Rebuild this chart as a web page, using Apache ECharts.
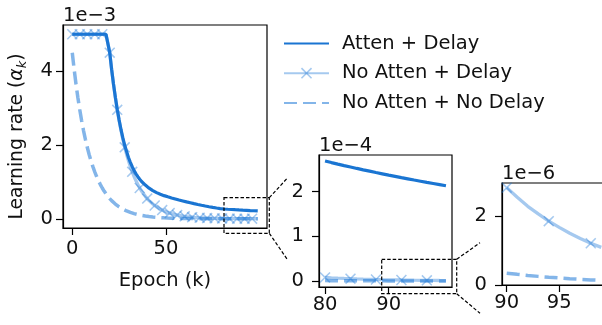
<!DOCTYPE html>
<html>
<head>
<meta charset="utf-8">
<script src="https://cdn.jsdelivr.net/npm/echarts@6/dist/echarts.min.js"></script>
<style>
  html, body { margin: 0; padding: 0; background: #fff; }
  #chart { width: 602px; height: 325px; }
</style>
</head>
<body>
<div id="chart"></div>
<script>
// learning rate per epoch, values in units of 1e-3
const epochs = Array.from({ length: 100 }, (_, i) => i);

const attenDelay = [
  5, 5, 5, 5, 5, 5, 5, 5, 5, 5, 5, 5, 5, 5, 5, 5, 5, 5, 5, 5,
  4.5, 4.05, 3.65, 3.29, 2.97, 2.68, 2.42, 2.19, 1.99, 1.82,
  1.66, 1.53, 1.41, 1.31, 1.22, 1.14, 1.07, 1.01, 0.96, 0.913,
  0.869, 0.83, 0.795, 0.764, 0.735, 0.709, 0.686, 0.665, 0.646, 0.627,
  0.611, 0.595, 0.58, 0.565, 0.551, 0.537, 0.523, 0.509, 0.496, 0.483,
  0.47, 0.457, 0.445, 0.433, 0.421, 0.409, 0.398, 0.387, 0.376, 0.366,
  0.356, 0.346, 0.336, 0.327, 0.318, 0.309, 0.3, 0.292, 0.284, 0.276,
  0.268, 0.2645, 0.2611, 0.2578, 0.2546, 0.2514, 0.2483, 0.2453, 0.2423, 0.2394,
  0.2365, 0.2337, 0.2309, 0.2282, 0.2255, 0.2229, 0.2203, 0.2178, 0.2153, 0.2128
];

const noAttenDelay = [
  5, 5, 5, 5, 5, 5, 5, 5, 5, 5, 5, 5, 5, 5, 5, 5, 5, 5, 5, 5,
  4.5, 4.05, 3.645, 3.281, 2.952, 2.657, 2.391, 2.152, 1.937, 1.743,
  1.569, 1.412, 1.271, 1.144, 1.029, 0.926, 0.834, 0.75, 0.675, 0.608,
  0.547, 0.492, 0.443, 0.399, 0.359, 0.323, 0.291, 0.262, 0.236, 0.212,
  0.191, 0.172, 0.155, 0.139, 0.125, 0.113, 0.101, 0.0912, 0.0821, 0.0739,
  0.0665, 0.0598, 0.0539, 0.0485, 0.0436, 0.0393, 0.0353, 0.0318, 0.0286, 0.0258,
  0.0232, 0.0209, 0.0188, 0.0169, 0.0152, 0.0137, 0.0123, 0.0111, 0.01, 0.009,
  0.0081, 0.00729, 0.00656, 0.0059, 0.00531, 0.00478, 0.0043, 0.00387, 0.00349, 0.00314,
  0.00282, 0.00254, 0.00228, 0.00206, 0.00185, 0.00167, 0.0015, 0.00135, 0.00121, 0.00109
];

const noAttenNoDelay = [
  4.5, 4.05, 3.645, 3.281, 2.952, 2.657, 2.391, 2.152, 1.937, 1.743,
  1.569, 1.412, 1.271, 1.144, 1.029, 0.926, 0.834, 0.75, 0.675, 0.608,
  0.547, 0.492, 0.443, 0.399, 0.359, 0.323, 0.291, 0.262, 0.236, 0.212,
  0.191, 0.172, 0.155, 0.139, 0.125, 0.113, 0.101, 0.0912, 0.0821, 0.0739,
  0.0665, 0.0598, 0.0539, 0.0485, 0.0436, 0.0393, 0.0353, 0.0318, 0.0286, 0.0258,
  0.0232, 0.0209, 0.0188, 0.0169, 0.0152, 0.0137, 0.0123, 0.0111, 0.01, 0.009,
  0.0081, 0.00729, 0.00656, 0.0059, 0.00531, 0.00478, 0.0043, 0.00387, 0.00349, 0.00314,
  0.00282, 0.00254, 0.00228, 0.00206, 0.00185, 0.00167, 0.0015, 0.00135, 0.00121, 0.00109,
  0.000984, 0.000886, 0.000797, 0.000717, 0.000646, 0.000581, 0.000523, 0.000471, 0.000424, 0.000381,
  0.000343, 0.000309, 0.000278, 0.00025, 0.000225, 0.000203, 0.000182, 0.000164, 0.000148, 0.000133
];

const seriesNames = ['Atten + Delay', 'No Atten + Delay', 'No Atten + No Delay'];

// panels: main view, zoom on 80-99, zoom on 90-99
const panelStart = [0, 80, 90];
const xRanges = [[-4.95, 103.95], [79.05, 99.95], [89.55, 99.45]];
const yRanges = [[-0.25, 5.25], [-0.0133, 0.2814], [0, 0.002955]];
const xTicks = [[0, 50], [80, 90], [90, 95]];
const yTicks = [[0, 2, 4], [0, 0.1, 0.2], [0, 0.002]];
const yScale = [1, 10, 1000];
const offsetLabels = ['1e\u22123', '1e\u22124', '1e\u22126'];

const grids = [
  { left: 63, top: 25, width: 204, height: 203 },
  { left: 319, top: 155, width: 133, height: 132 },
  { left: 502, top: 183, width: 104, height: 102 }
];
const xLabelMargin = [11, 8, 8];
const yLabelMargin = [10, 15, 15];

const FONT = 'DejaVu Sans';
const dark = '#1a75d2';
const light = 'rgba(30,120,215,0.4)';
const mid = 'rgba(30,120,215,0.55)';
const crossPath = 'path://M0,1L1,0L5,4L9,0L10,1L6,5L10,9L9,10L5,6L1,10L0,9L4,5Z';

function pts(values, from) {
  return values.slice(from).map((v, i) => [epochs[from + i], v]);
}
function markedPts(values, from) {
  return values.slice(from).map((v, i) => ({
    value: [epochs[from + i], v],
    symbol: i % 4 === 0 ? crossPath : 'none'
  }));
}

const chart = echarts.init(document.getElementById('chart'), null, { renderer: 'canvas' });

const axisBase = {
  axisLine: { show: true, onZero: false, lineStyle: { color: '#000', width: 1.2 } },
  splitLine: { show: false },
  nameTextStyle: { color: '#111', fontSize: 19.5, fontFamily: FONT }
};

const xAxis = grids.map((g, i) => ({
  ...axisBase,
  type: 'value',
  gridIndex: i,
  min: xRanges[i][0],
  max: xRanges[i][1],
  axisTick: { show: true, length: 7, customValues: xTicks[i], lineStyle: { color: '#000', width: 1.2 } },
  axisLabel: { customValues: xTicks[i], margin: xLabelMargin[i], color: '#111', fontSize: 19.5, fontFamily: FONT },
  name: i === 0 ? 'Epoch (k)' : '',
  nameLocation: 'middle',
  nameGap: 43
}));

const yAxis = grids.map((g, i) => ({
  ...axisBase,
  type: 'value',
  gridIndex: i,
  min: yRanges[i][0],
  max: yRanges[i][1],
  axisTick: { show: true, length: 7, customValues: yTicks[i], lineStyle: { color: '#000', width: 1.2 } },
  axisLabel: {
    customValues: yTicks[i], margin: yLabelMargin[i], color: '#111', fontSize: 19.5, fontFamily: FONT,
    formatter: v => String(Math.round(v * yScale[i]))
  },
  name: i === 0 ? '{t|Learning rate (}{g|\u03b1}{s|k}{t|)}' : '',
  nameLocation: 'middle',
  nameRotate: 90,
  nameGap: 34,
  nameTextStyle: {
    color: '#111',
    padding: [0, 20, 0, 0],
    rich: {
      t: { fontSize: 18.8, fontFamily: FONT, color: '#111', lineHeight: 24 },
      g: { fontSize: 18.8, fontFamily: FONT, fontStyle: 'italic', color: '#111', lineHeight: 24 },
      s: { fontSize: 13, fontFamily: FONT, fontStyle: 'italic', color: '#111', lineHeight: 13, verticalAlign: 'bottom' }
    }
  }
}));

const series = [];
panelStart.forEach((from, i) => {
  series.push({
    name: seriesNames[0], type: 'line', xAxisIndex: i, yAxisIndex: i,
    data: pts(attenDelay, from), symbol: 'none',
    lineStyle: { color: dark, width: 3.2 }, itemStyle: { color: dark },
    silent: true, emphasis: { disabled: true }
  });
  series.push({
    name: seriesNames[1], type: 'line', xAxisIndex: i, yAxisIndex: i,
    data: markedPts(noAttenDelay, from), symbol: crossPath, symbolSize: 11,
    showSymbol: true, showAllSymbol: true,
    lineStyle: { color: light, width: 3.3 }, itemStyle: { color: light },
    silent: true, emphasis: { disabled: true }
  });
  series.push({
    name: seriesNames[2], type: 'line', xAxisIndex: i, yAxisIndex: i,
    data: pts(noAttenNoDelay, from), symbol: 'none',
    lineStyle: { color: mid, width: 3.5, type: [13, 6] }, itemStyle: { color: mid },
    silent: true, emphasis: { disabled: true }
  });
});

// inset indicator boxes and connector lines (figure decoration)
const insetBoxes = [
  { x: 224, y: 197.7, width: 45.3, height: 35.6 },
  { x: 381.7, y: 259.3, width: 75, height: 34.4 }
];
const connectors = [
  [[269.3, 197.7], [287, 178.5]],
  [[269.3, 233.3], [287, 259]],
  [[456.7, 259.3], [480, 242.7]],
  [[456.7, 293.7], [480, 313.3]]
];
const dashStyle = { stroke: '#000', lineWidth: 1.2, lineDash: [3.5, 2], fill: null };

const graphic = [];
grids.forEach((g, i) => {
  graphic.push({
    type: 'text', left: g.left, top: g.top - 19, z: 10,
    style: { text: offsetLabels[i], fill: '#111', font: '19.5px "DejaVu Sans"' }
  });
});
insetBoxes.forEach(b => {
  graphic.push({ type: 'rect', shape: b, style: dashStyle, z: 20 });
});
connectors.forEach(c => {
  graphic.push({ type: 'polyline', shape: { points: c }, style: dashStyle, z: 20 });
});

chart.setOption({
  animation: false,
  backgroundColor: '#fff',
  grid: grids.map(g => ({
    ...g, show: true, borderColor: '#000', borderWidth: 1.2,
    backgroundColor: 'transparent', containLabel: false, outerBoundsMode: 'none'
  })),
  legend: {
    // plain line samples for the unmarked series
    data: [
      { name: seriesNames[0], itemStyle: { opacity: 0 } },
      { name: seriesNames[1] },
      { name: seriesNames[2], itemStyle: { opacity: 0 } }
    ],
    orient: 'vertical',
    left: 283,
    top: 33.5,
    padding: 0,
    itemWidth: 45,
    itemHeight: 14,
    itemGap: 9.7,
    selectedMode: false,
    textStyle: { color: '#111', fontSize: 19.5, fontFamily: FONT, lineHeight: 20, padding: [0, 0, 0, 8] }
  },
  xAxis,
  yAxis,
  series,
  graphic
});
</script>
</body>
</html>
